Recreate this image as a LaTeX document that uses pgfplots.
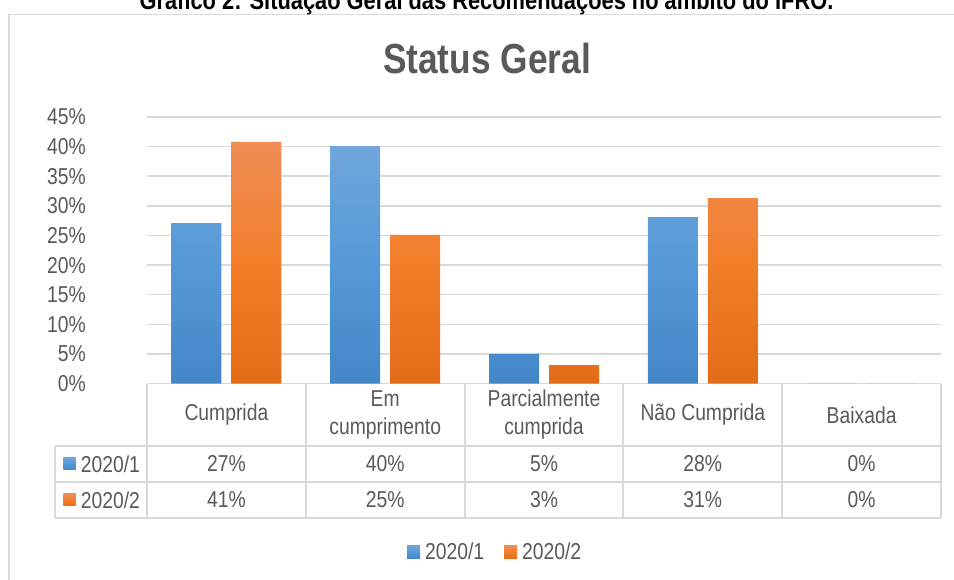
\documentclass[border=0pt]{standalone}
\usepackage{pgfplots}
\pgfplotsset{compat=1.18}
\usepackage{fontspec}
\setmainfont{Liberation Sans}[FakeStretch=0.84]
\definecolor{txt}{HTML}{595959}
\definecolor{grd}{HTML}{D9D9D9}
\definecolor{bT}{HTML}{70A6DB}
\definecolor{bM}{HTML}{5599D8}
\definecolor{bB}{HTML}{4387C8}
\definecolor{oT}{HTML}{F08D57}
\definecolor{oM}{HTML}{F27E2A}
\definecolor{oB}{HTML}{E36C18}
\begin{document}
\begin{tikzpicture}[x=1pt,y=1pt]
\clip (0,0) rectangle (954,580);
\draw[grd, line width=1.5pt] (9,565.5) rectangle (980,-20);
\node[anchor=base, inner sep=0pt, font=\fontsize{26}{30}\selectfont\bfseries] at (486.5,570) {Gráfico 2: Situação Geral das Recomendações no âmbito do IFRO.};
\node[anchor=base, inner sep=0pt, text=txt, font=\fontsize{42}{48}\selectfont\bfseries] at (487,506.7) {Status Geral};
\begin{axis}[
  at={(147pt,196.4pt)}, anchor=south west,
  scale only axis, width=794pt, height=266.6pt,
  xmin=-0.5, xmax=4.5, ymin=0, ymax=45,
  ybar=10pt, bar width=50pt,
  axis line style={draw=none}, major tick length=0pt,
  xtick={0,1,2,3,4},
  xticklabels={Cumprida,{Em\\cumprimento},{Parcialmente\\cumprida},Não Cumprida,Baixada},
  xticklabel style={anchor=center, yshift=-31.4pt, align=center, inner sep=0pt, text=txt, font=\fontsize{23}{28}\selectfont},
  ytick={0,5,10,15,20,25,30,35,40,45},
  yticklabels={0\%,5\%,10\%,15\%,20\%,25\%,30\%,35\%,40\%,45\%},
  yticklabel style={anchor=east, inner sep=0pt, xshift=-61pt, text=txt, font=\fontsize{23}{28}\selectfont},
  ymajorgrids, grid style={grd, line width=1.5pt},
  legend columns=2,
  legend image code/.code={\fill[#1] (0pt,-6.5pt) rectangle (13pt,6.5pt);},
  legend style={at={(0.3275,-0.6317)}, anchor=west, draw=none, fill=none, inner sep=0pt, outer sep=0pt,
    text=txt, font=\fontsize{23}{28}\selectfont, nodes={inner sep=0pt},
    /tikz/every odd column/.append style={column sep=5pt},
    /tikz/every even column/.append style={column sep=20pt}},
]
\addplot[draw=none, top color=bT, bottom color=bB, middle color=bM]
  coordinates {(0,27.1) (1,40.1) (2,5.0) (3,28.1) (4,0)};
\addplot[draw=none, top color=oT, bottom color=oB, middle color=oM]
  coordinates {(0,40.8) (1,25.1) (2,3.1) (3,31.3) (4,0)};
\legend{2020/1,2020/2}
\end{axis}
% data table below the plot
\begin{scope}[grd, line width=1.5pt]
\draw (55,134) -- (941,134);
\draw (55,98) -- (941,98);
\draw (55,62) -- (941,62);
\draw (55,134) -- (55,62);
\foreach \xx in {147,306,465,623,782,941} {\draw (\xx,196.4) -- (\xx,62);}
\end{scope}
\shade[top color=bT, bottom color=bB, middle color=bM] (63.3,110) rectangle (75.7,122.4);
\shade[top color=oT, bottom color=oB, middle color=oM] (63.3,74) rectangle (75.7,86.4);
\begin{scope}[every node/.style={inner sep=0pt, text=txt, font=\fontsize{23}{28}\selectfont}]
\node[anchor=west] at (80.7,116) {2020/1};
\node[anchor=west] at (80.7,80) {2020/2};
\node at (226.4,116) {27\%};
\node at (385.2,116) {40\%};
\node at (544.0,116) {5\%};
\node at (702.8,116) {28\%};
\node at (861.6,116) {0\%};
\node at (226.4,80) {41\%};
\node at (385.2,80) {25\%};
\node at (544.0,80) {3\%};
\node at (702.8,80) {31\%};
\node at (861.6,80) {0\%};
\end{scope}
\end{tikzpicture}
\end{document}
